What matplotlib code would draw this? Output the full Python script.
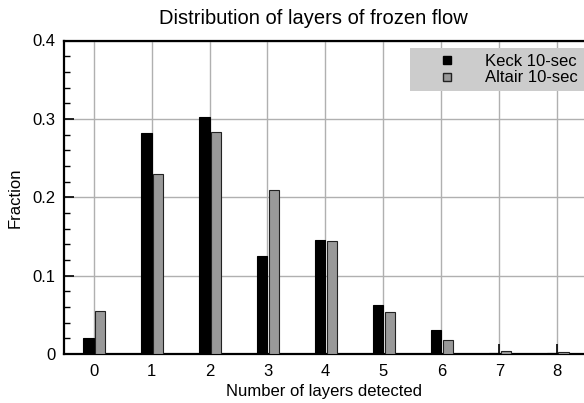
import matplotlib
matplotlib.use("Agg")
import matplotlib.pyplot as plt
from matplotlib.lines import Line2D
from matplotlib.ticker import MultipleLocator
import numpy as np

plt.rcParams['font.family'] = ['Liberation Sans', 'DejaVu Sans']

layers = [0, 1, 2, 3, 4, 5, 6, 7, 8]
keck = [0.021, 0.282, 0.303, 0.125, 0.146, 0.063, 0.031, 0.001, 0.001]
altair = [0.055, 0.230, 0.283, 0.209, 0.144, 0.054, 0.018, 0.004, 0.003]
series_names = ["Keck 10-sec", "Altair 10-sec"]

fig = plt.figure(figsize=(5.84, 4.03), dpi=100)
ax = fig.add_axes([64/584, 49/403, 1 - 64/584, (354 - 40.5)/403])

x = np.array(layers)
w = 0.175
ax.bar(x - w/2, keck, width=w, color='black', edgecolor='black', linewidth=0.8, zorder=3)
ax.bar(x + 0.02 + w/2, altair, width=w, color='#999999', edgecolor='#222222', linewidth=0.8, zorder=3)

ax.set_xlim(-0.51, 8.46)
ax.set_ylim(0, 0.4)
ax.set_xticks(layers)
ax.set_yticks([0, 0.1, 0.2, 0.3, 0.4])
ax.set_yticklabels(['0', '0.1', '0.2', '0.3', '0.4'])
ax.yaxis.set_minor_locator(MultipleLocator(0.02))

ax.grid(True, which='major', color='#b0b0b0', linewidth=1.0, zorder=0)
ax.set_axisbelow(True)

for s in ['left', 'bottom', 'top']:
    ax.spines[s].set_linewidth(1.6)
ax.spines['right'].set_visible(False)

ax.tick_params(axis='x', which='major', direction='in', length=7, width=1.2, labelsize=12, pad=7)
ax.tick_params(axis='y', which='major', direction='in', length=7, width=1.2, labelsize=12, pad=6)
ax.tick_params(axis='y', which='minor', direction='in', length=4, width=1.0)
for t in ax.xaxis.get_major_ticks():
    t.tick1line.set_zorder(5)

ax.set_xlabel("Number of layers detected", fontsize=12, labelpad=4)
ax.set_ylabel("Fraction", fontsize=12, labelpad=7)
ax.set_title("Distribution of layers of frozen flow", fontsize=14.5, pad=12,
             x=(313 - 64) / 520)

handles = [
    Line2D([], [], linestyle='none', marker='s', markersize=6, markerfacecolor='black', markeredgecolor='black'),
    Line2D([], [], linestyle='none', marker='s', markersize=6, markerfacecolor='#999999', markeredgecolor='#222222'),
]
leg = ax.legend(handles, series_names, loc='upper right', bbox_to_anchor=(1.0, 1 - 7.5/313.5),
                borderaxespad=0, frameon=True, fancybox=False, framealpha=1,
                facecolor='#cccccc', edgecolor='none', fontsize=12,
                handletextpad=0.4, handlelength=3.8, borderpad=0.35, labelspacing=0.1)
leg.set_zorder(6)

fig.savefig("out.png", dpi=100)
